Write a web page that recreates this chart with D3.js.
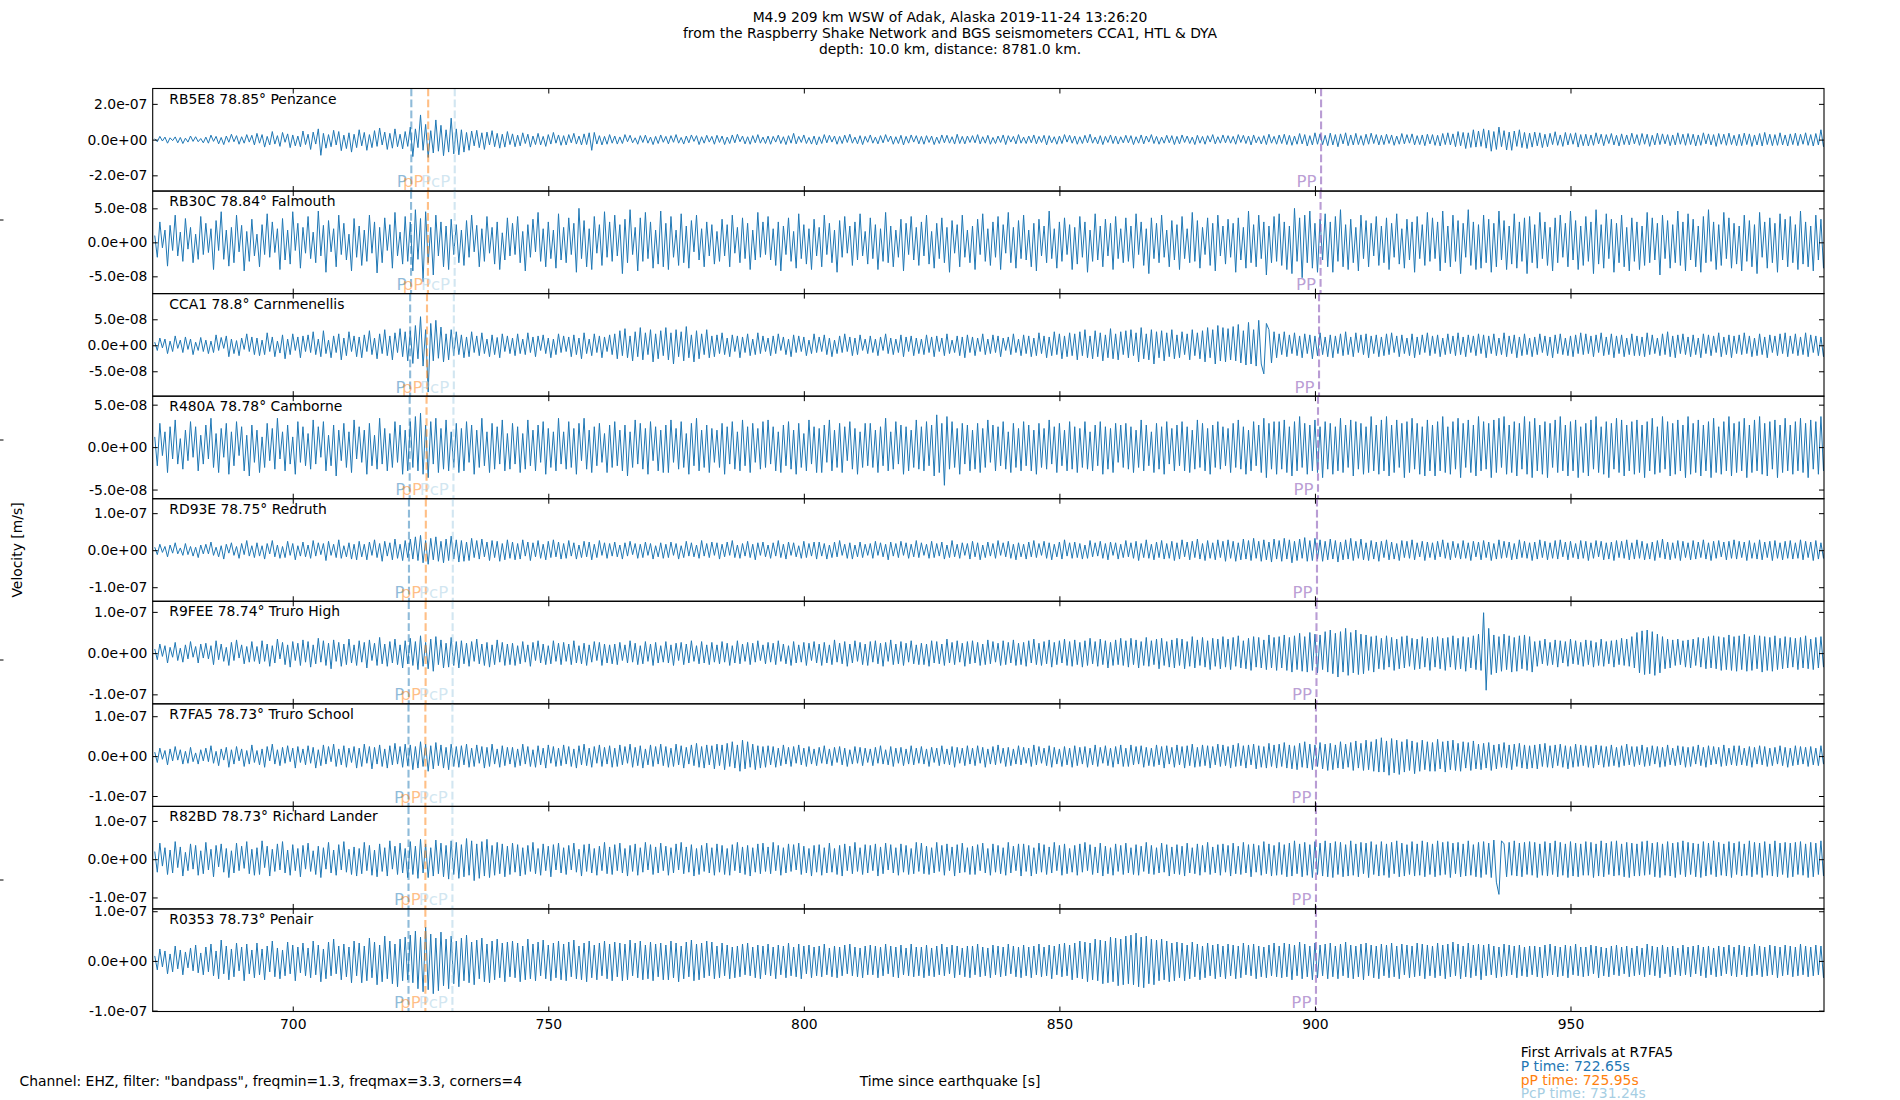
<!DOCTYPE html>
<html><head><meta charset="utf-8">
<script src="https://cdn.jsdelivr.net/npm/d3@7"></script>
<style>
html,body{margin:0;padding:0;background:#fff;}
svg{display:block;font-family:"DejaVu Sans",sans-serif;}
</style></head>
<body>
<svg id="chart" width="1900" height="1100"></svg>
<script>
// ---------------- data ----------------
const titleLines = ["M4.9 209 km WSW of Adak, Alaska 2019-11-24 13:26:20",
  "from the Raspberry Shake Network and BGS seismometers CCA1, HTL & DYA",
  "depth: 10.0 km, distance: 8781.0 km."];
const stations = ["RB5E8","RB30C","CCA1","R480A","RD93E","R9FEE","R7FA5","R82BD","R0353"];
const distances = ["78.85","78.84","78.8","78.78","78.75","78.74","78.73","78.73","78.73"];
const places = ["Penzance","Falmouth","Carnmenellis","Camborne","Redruth","Truro High","Truro School","Richard Lander","Penair"];
const pTimes   = [723.2, 723.15, 722.97, 722.88, 722.74, 722.70, 722.65, 722.65, 722.65];
const pPTimes  = [726.5, 726.45, 726.27, 726.18, 726.04, 726.00, 725.95, 725.95, 725.95];
const pcpTimes = [731.7, 731.68, 731.52, 731.44, 731.32, 731.28, 731.24, 731.24, 731.24];
const ppTimes  = [901.2, 901.1, 900.8, 900.6, 900.4, 900.3, 900.2, 900.2, 900.2];
const yMin = [-2.88e-7, -7.54e-8, -9.79e-8, -6.08e-8, -1.38e-7, -1.23e-7, -1.26e-7, -1.30e-7, -1.018e-7];
const yMax = [ 2.86e-7,  7.54e-8,  9.94e-8,  6.00e-8,  1.39e-7,  1.257e-7, 1.31e-7, 1.38e-7,  1.046e-7];
const yTicks = [[-2e-7,0,2e-7],[-5e-8,0,5e-8],[-5e-8,0,5e-8],[-5e-8,0,5e-8],[-1e-7,0,1e-7],[-1e-7,0,1e-7],[-1e-7,0,1e-7],[-1e-7,0,1e-7],[-1e-7,0,1e-7]];
const xTicks = [700,750,800,850,900,950];
const xDomain = [672.6, 999.6];
const traceStart = 673, traceStep = 0.5, traceUnit = 1e-9;
const legendTitle = "First Arrivals at R7FA5";
const legendLines = ["P time: 722.65s","pP time: 725.95s","PcP time: 731.24s"];
const channelText = 'Channel: EHZ, filter: "bandpass", freqmin=1.3, freqmax=3.3, corners=4';

// velocity samples (units of 1e-9 m/s), one every 0.5 s from 673 s
const tr0 = [
5,-12,18,-8,14,-20,10,-6,15,-18,12,-22,8,-14,20,-10,16,-12,6,-18,
14,-20,25,-10,18,-24,12,-28,20,-15,30,-12,22,-26,16,-20,28,-14,24,-30,
35,-20,28,-42,18,-30,45,-25,22,-38,40,-15,32,-45,26,-35,20,-40,48,-28,
30,-55,42,-25,60,-88,35,-48,28,-40,52,-30,45,-62,25,-50,38,-70,30,-45,
55,-35,40,-60,28,-45,50,-38,65,-30,42,-55,35,-48,60,-40,30,-52,45,-38,
70,-95,60,-45,138,-60,85,-100,50,-75,110,-65,80,-90,55,-70,120,-80,60,-85,
55,-70,40,-60,48,-35,52,-45,38,-55,42,-30,50,-40,35,-48,30,-42,45,-28,
32,-40,25,-35,38,-22,30,-42,20,-28,35,-30,18,-38,28,-25,40,-20,26,-32,
22,-30,28,-18,35,-25,20,-30,32,-28,38,-60,40,-25,22,-30,18,-26,28,-20,
20,-25,15,-22,28,-12,24,-18,10,-26,22,-16,25,-20,14,-28,18,-22,26,-15,
18,-24,22,-15,28,-20,12,-25,20,-18,26,-10,22,-28,16,-20,24,-14,18,-26,
24,-16,20,-28,14,-22,26,-18,30,-12,20,-24,16,-26,22,-18,28,-20,14,-22,
20,-26,18,-14,25,-22,16,-28,22,-20,35,-24,18,-16,26,-22,12,-25,20,-30,
16,-22,28,-18,24,-14,20,-26,18,-22,25,-16,30,-20,14,-24,22,-28,18,-15,
26,-20,14,-24,22,-18,28,-12,20,-26,16,-22,24,-30,18,-20,26,-14,22,-24,
18,-26,22,-16,20,-28,14,-22,26,-18,24,-20,16,-25,30,-22,18,-24,20,-16,
22,-18,28,-24,16,-20,24,-26,12,-22,20,-16,26,-28,22,-14,18,-24,28,-20,
14,-22,20,-18,26,-24,18,-16,24,-30,22,-18,16,-26,20,-22,28,-14,24,-20,
20,-26,16,-22,24,-18,30,-20,14,-24,22,-28,18,-16,26,-22,20,-25,16,-18,
24,-18,22,-28,16,-20,26,-24,20,-14,28,-22,18,-26,14,-20,24,-18,22,-28,
18,-24,26,-16,20,-22,14,-28,24,-20,18,-26,22,-14,28,-24,16,-20,26,-18,
22,-20,18,-26,28,-16,24,-22,20,-30,26,-18,16,-24,22,-28,30,-20,18,-26,
26,-22,30,-28,24,-32,20,-26,34,-24,28,-36,22,-30,38,-26,32,-28,24,-34,
36,-30,28,-40,32,-24,38,-34,26,-30,35,-28,22,-32,30,-26,36,-22,28,-30,
24,-28,30,-22,26,-32,20,-26,34,-24,28,-20,32,-30,22,-28,26,-34,30,-24,
28,-32,24,-36,34,-28,38,-30,32,-40,45,-35,40,-50,38,-44,55,-42,48,-38,
60,-48,52,-65,45,-55,70,-40,50,-58,42,-60,48,-38,55,-45,40,-50,36,-42,
42,-35,38,-45,30,-40,35,-28,44,-32,26,-38,40,-30,34,-26,38,-42,28,-34,
30,-36,26,-32,38,-24,30,-34,28,-22,34,-30,24,-36,32,-28,26,-30,36,-24,
28,-32,34,-26,30,-38,24,-30,36,-28,32,-24,28,-34,26,-30,38,-26,30,-32,
34,-28,30,-36,26,-32,38,-24,32,-30,28,-38,34,-26,30,-32,36,-28,24,-34,
30,-34,36,-28,32,-38,26,-30,34,-36,40,-28,30,-34,28,-32,38,-30,26,-36,
32,-28,36,-34,30,-26,38,-32,28,-36,34,-30,55,-40,45,-30,28,-25,30,-20];
const tr1 = [
10,-22,30,-8,18,-35,25,-12,40,-20,15,-28,35,-10,22,-30,12,-25,38,-18,
28,-15,20,-40,32,-12,45,-25,18,-35,22,-30,40,-14,25,-42,16,-28,34,-20,
12,-36,26,-18,42,-22,30,-15,20,-40,35,-26,18,-32,45,-12,28,-38,22,-16,
38,-24,15,-30,46,-20,25,-44,32,-14,20,-36,40,-18,28,-26,12,-42,35,-22,
24,-34,18,-28,40,-16,30,-45,22,-30,36,-12,26,-38,44,-20,15,-32,38,-28,
30,-42,48,-25,35,-58,45,-30,22,-48,40,-20,30,-36,24,-40,34,-18,26,-30,
18,-34,32,-22,40,-14,25,-36,20,-28,38,-16,22,-32,30,-40,14,-26,36,-20,
28,-18,38,-30,16,-42,26,-22,34,-14,44,-28,20,-36,30,-24,18,-38,42,-26,
22,-30,36,-18,28,-44,50,-24,32,-36,20,-40,38,-16,26,-34,45,-22,30,-28,
40,-20,26,-46,34,-30,48,-18,22,-42,36,-28,44,-24,30,-38,18,-32,46,-36,
28,-40,38,-22,18,-34,42,-30,24,-38,32,-14,40,-26,20,-36,30,-20,26,-32,
16,-28,34,-20,26,-36,40,-16,22,-30,36,-24,28,-40,18,-26,44,-22,30,-18,
38,-26,20,-34,30,-42,24,-18,36,-28,16,-38,42,-24,26,-32,20,-40,34,-20,
22,-36,40,-18,28,-30,18,-44,32,-22,38,-16,24,-34,30,-26,42,-20,16,-32,
36,-24,26,-40,20,-28,44,-30,24,-36,18,-22,34,-42,28,-18,38,-26,22,-34,
30,-20,40,-32,16,-38,28,-24,36,-30,22,-44,32,-16,26,-36,40,-22,18,-30,
24,-40,34,-18,42,-28,20,-34,30,-22,38,-40,26,-16,44,-30,22,-38,32,-24,
40,-26,18,-36,28,-42,34,-20,24,-30,46,-24,20,-38,30,-28,36,-18,26,-40,
22,-32,38,-22,30,-44,18,-28,42,-26,24,-36,34,-20,28,-40,38,-24,20,-30,
36,-28,24,-38,42,-18,30,-34,20,-46,36,-24,28,-30,40,-22,18,-36,32,-26,
26,-40,38,-24,20,-30,44,-28,32,-38,22,-18,36,-34,28,-42,40,-20,24,-32,
34,-22,28,-44,36,-26,22,-38,46,-30,26,-36,40,-24,30,-48,24,-30,38,-28,
42,-34,30,-40,24,-46,50,-28,36,-52,40,-30,46,-38,28,-44,34,-26,42,-36,
30,-44,38,-28,48,-36,26,-40,34,-30,22,-42,40,-24,32,-36,28,-20,38,-34,
24,-30,36,-40,28,-22,42,-32,20,-38,34,-26,30,-44,38,-24,26,-34,44,-28,
36,-24,30,-42,46,-30,24,-36,40,-28,32,-46,28,-22,48,-34,30,-40,26,-38,
40,-30,34,-44,28,-36,46,-26,32,-40,24,-32,42,-38,30,-28,36,-46,38,-30,
26,-38,44,-24,30,-34,22,-42,36,-30,40,-22,28,-36,46,-26,32,-40,24,-34,
38,-28,30,-46,48,-32,26,-38,42,-24,34,-44,28,-30,40,-36,22,-42,36,-28,
30,-40,24,-34,44,-30,36,-26,28,-48,40,-24,32,-38,26,-30,46,-34,30,-42,
42,-26,34,-36,24,-44,38,-30,48,-28,30,-40,26,-34,44,-24,36,-38,28,-32,
24,-42,40,-28,32,-36,26,-46,44,-22,30,-38,36,-30,28,-44,42,-26,34,-36,
38,-30,26,-40,46,-32,30,-36,24,-42,40,-26,34,-38,28,-30,44,-34,30,-28];
const tr2 = [
6,-10,14,-5,12,-16,8,-12,18,-6,10,-14,16,-8,12,-18,6,-10,15,-12,
10,-16,8,-14,20,-10,15,-6,18,-22,12,-16,9,-20,14,-8,22,-12,16,-18,
14,-20,10,-18,24,-12,16,-22,8,-15,20,-26,12,-18,22,-10,16,-24,18,-12,
20,-14,26,-18,12,-22,28,-16,10,-24,18,-14,22,-28,14,-20,26,-12,18,-22,
16,-24,20,-12,28,-18,14,-26,22,-16,30,-20,18,-28,24,-14,32,-22,26,-30,
28,-35,38,-26,55,-40,30,-90,42,-30,48,-25,35,-32,22,-28,30,-20,26,-18,
20,-24,16,-22,26,-14,18,-20,24,-16,12,-22,20,-18,15,-24,22,-12,18,-16,
14,-20,22,-16,12,-18,24,-14,16,-22,18,-10,20,-16,14,-24,12,-18,22,-14,
18,-12,16,-22,20,-18,14,-26,24,-16,12,-20,22,-14,18,-24,16,-12,20,-18,
22,-26,28,-20,32,-24,18,-30,26,-22,34,-28,24,-18,30,-32,22,-26,28,-20,
34,-28,24,-36,30,-22,26,-30,36,-24,20,-32,28,-26,22,-18,30,-24,18,-22,
20,-16,24,-18,14,-22,20,-12,18,-24,16,-14,22,-20,12,-18,24,-16,18,-12,
14,-20,18,-16,22,-10,16,-18,12,-22,20,-14,18,-12,16,-20,10,-16,22,-14,
16,-12,20,-18,14,-22,10,-16,18,-14,22,-12,16,-20,14,-18,20,-10,12,-16,
18,-14,12,-20,16,-10,22,-16,14,-18,12,-14,20,-22,16,-12,18,-20,14,-16,
12,-18,20,-14,16,-22,18,-12,14,-20,22,-16,10,-14,18,-20,16,-24,20,-14,
16,-20,14,-12,22,-18,12,-16,20,-14,18,-22,14,-10,16,-18,22,-14,12,-20,
20,-16,18,-22,14,-20,24,-16,18,-24,16,-20,26,-18,22,-26,18,-22,24,-20,
22,-28,26,-20,30,-24,18,-26,28,-22,24,-30,20,-24,32,-26,22,-28,26,-18,
28,-24,30,-20,24,-32,34,-26,22,-28,30,-36,26,-24,28,-30,24,-22,30,-26,
20,-24,26,-18,22,-28,30,-20,24,-26,28,-32,34,-24,30,-36,38,-30,34,-32,
32,-28,36,-30,40,-34,28,-38,44,-36,30,-40,48,-36,-55,42,30,-34,26,-24,
22,-18,26,-22,20,-16,24,-20,18,-24,22,-16,20,-26,18,-20,24,-18,16,-22,
20,-24,18,-16,22,-20,26,-18,16,-22,24,-14,20,-18,22,-24,18,-16,20,-22,
16,-20,22,-18,24,-14,18,-22,20,-16,14,-20,22,-24,16,-18,20,-14,24,-20,
18,-16,20,-22,14,-18,22,-16,18,-20,24,-18,16,-22,20,-14,18,-20,22,-16,
20,-24,18,-16,22,-20,14,-18,24,-22,18,-16,20,-24,16,-20,22,-18,14,-22,
16,-18,22,-14,18,-20,16,-24,20,-16,22,-18,14,-20,18,-22,20,-16,24,-18,
22,-16,18,-22,20,-14,24,-20,16,-18,22,-24,18,-16,20,-22,14,-18,22,-20,
18,-20,16,-22,24,-18,20,-16,14,-20,22,-18,26,-22,18,-24,20,-16,22,-18,
16,-22,20,-18,14,-24,22,-16,20,-20,18,-14,24,-22,16,-18,20,-24,18,-16,
20,-18,24,-16,18,-22,14,-20,22,-18,16,-24,20,-14,18,-20,22,-16,24,-22,
18,-16,22,-20,16,-18,24,-22,20,-14,18,-20,16,-22,22,-18,20,-16,18,-14];
const tr3 = [
12,-22,28,-10,18,-30,24,-14,32,-20,10,-26,20,-16,30,-12,24,-28,14,-20,
26,-14,34,-24,16,-30,22,-12,28,-32,18,-22,30,-10,24,-28,14,-34,26,-18,
20,-30,12,-24,28,-16,22,-26,34,-14,18,-28,26,-20,12,-32,30,-18,24,-22,
16,-26,32,-20,24,-12,30,-28,14,-22,26,-34,20,-16,28,-24,18,-30,32,-14,
24,-18,20,-32,28,-22,14,-26,34,-20,22,-28,16,-24,30,-18,26,-32,20,-28,
30,-24,36,-28,40,-32,26,-36,30,-20,34,-30,22,-26,32,-28,18,-24,28,-30,
22,-28,30,-18,26,-32,20,-24,34,-22,18,-30,28,-26,24,-20,32,-28,16,-26,
28,-20,24,-30,16,-26,32,-22,20,-28,26,-18,30,-32,22,-24,18,-28,34,-20,
18,-26,30,-24,22,-32,28,-16,34,-26,20,-30,24,-22,28,-18,16,-30,26,-24,
30,-22,20,-28,26,-34,18,-24,32,-20,28,-26,22,-32,30,-16,24,-28,20,-30,
26,-30,32,-18,22,-26,30,-24,16,-32,28,-22,34,-28,20,-24,26,-30,22,-18,
20,-24,28,-32,24,-20,30,-26,18,-28,32,-22,24,-30,28,-18,22,-26,30,-24,
32,-20,24,-28,18,-30,26,-22,30,-26,20,-32,28,-24,16,-28,32,-20,24,-30,
22,-30,26,-18,32,-28,20,-24,28,-30,24,-16,30,-26,22,-32,18,-24,28,-22,
28,-24,20,-30,24,-22,34,-28,18,-26,30,-20,26,-32,24,-28,20,-24,32,-26,
24,-28,30,-22,26,-34,38,-30,28,-45,36,-26,30,-24,22,-32,28,-20,26,-28,
20,-26,28,-30,22,-24,32,-18,26,-28,24,-22,30,-26,18,-30,28,-24,22,-28,
30,-22,26,-28,20,-32,28,-24,22,-26,32,-20,24,-30,28,-22,20,-28,30,-26,
24,-30,22,-24,30,-26,18,-28,26,-22,30,-32,24,-26,22,-30,28,-18,26,-24,
28,-26,24,-30,20,-24,32,-28,26,-22,18,-30,28,-26,24,-32,30,-20,22,-28,
26,-22,30,-28,24,-30,20,-26,32,-24,28,-28,22,-32,26,-24,30,-26,24,-22,
22,-30,28,-24,32,-26,24,-32,20,-28,30,-22,26,-30,34,-36,28,-26,30,-32,
30,-26,32,-30,24,-34,30,-28,36,-24,28,-32,26,-28,32,-30,24,-36,30,-26,
28,-32,24,-28,34,-30,26,-24,32,-34,30,-26,28,-32,24,-30,36,-28,26,-32,
32,-28,36,-34,26,-30,32,-24,28,-36,30,-30,34,-26,28,-32,24,-34,32,-28,
26,-34,30,-28,36,-30,24,-32,30,-26,34,-36,28,-24,32,-30,26,-34,36,-28,
30,-26,28,-36,32,-30,34,-24,36,-32,26,-30,30,-34,28,-26,36,-32,30,-36,
34,-28,26,-32,30,-36,28,-24,32,-30,36,-28,26,-34,30,-28,32,-36,24,-30,
28,-34,32,-26,36,-30,24,-32,30,-36,28,-26,34,-30,32,-34,26,-28,30,-32,
32,-30,26,-36,30,-28,34,-32,24,-30,36,-26,30,-34,28,-32,32,-28,26,-36,
36,-32,28,-30,32,-34,26,-28,30,-36,34,-30,24,-32,30,-28,36,-34,28,-30,
30,-28,34,-36,26,-30,32,-28,36,-32,28,-34,30,-26,32,-36,26,-30,34,-28,
26,-32,30,-28,34,-30,28,-36,32,-26,30,-32,36,-28,24,-30,32,-34,28,-30];
const tr4 = [
8,-12,16,-6,10,-18,14,-8,20,-10,6,-14,18,-12,10,-16,8,-20,14,-10,
16,-10,22,-14,8,-18,12,-24,16,-8,20,-14,10,-22,18,-12,26,-16,12,-20,
20,-16,12,-24,18,-10,26,-18,14,-22,10,-20,24,-14,18,-26,12,-16,22,-18,
14,-22,26,-16,20,-12,18,-28,24,-14,16,-20,28,-22,12,-18,20,-24,16,-26,
24,-18,16,-26,22,-14,28,-20,18,-30,24,-16,20,-26,30,-22,16,-28,26,-20,
30,-24,36,-28,40,-34,26,-38,32,-26,36,-30,24,-34,30,-28,38,-24,28,-32,
26,-30,22,-28,32,-20,26,-24,30,-18,22,-28,26,-20,24,-30,18,-26,28,-22,
22,-26,18,-24,28,-16,22,-28,20,-18,26,-22,16,-26,24,-20,28,-18,22,-24,
18,-22,26,-16,20,-24,14,-20,24,-18,22,-26,16,-20,26,-14,20,-22,18,-16,
22,-18,14,-24,20,-16,24,-12,18,-22,16,-20,22,-14,18,-24,12,-18,20,-22,
16,-20,22,-14,18,-24,12,-20,24,-16,20,-18,14,-22,26,-16,18,-20,22,-14,
20,-24,16,-18,22,-14,26,-20,14,-22,18,-16,24,-20,16,-26,20,-14,22,-18,
14,-22,20,-16,26,-20,16,-24,22,-14,20,-18,12,-22,24,-20,18,-16,22,-24,
22,-16,18,-24,14,-20,22,-18,26,-14,16,-22,20,-24,14,-18,22,-20,16,-14,
18,-22,24,-14,20,-18,16,-26,22,-16,18,-20,24,-14,20,-22,16,-18,26,-20,
20,-14,16,-22,24,-20,18,-16,22,-24,14,-20,26,-18,16,-22,20,-14,18,-24,
24,-18,20,-26,14,-20,22,-16,18,-22,26,-14,20,-18,24,-22,16,-26,20,-18,
16,-24,22,-18,26,-20,18,-14,24,-22,20,-26,16,-18,22,-24,28,-16,20,-22,
22,-20,18,-24,14,-22,26,-18,20,-16,24,-22,18,-26,22,-14,20,-24,16,-20,
26,-18,20,-22,24,-28,18,-20,28,-22,16,-26,22,-20,26,-24,18,-22,24,-28,
20,-24,28,-18,22,-26,24,-20,30,-24,18,-28,26,-22,20,-26,28,-20,24,-30,
28,-22,24,-30,20,-26,30,-24,26,-28,32,-22,24,-30,28,-26,22,-32,30,-24,
26,-30,32,-24,28,-34,24,-28,30,-22,34,-30,26,-28,32,-24,28,-30,24,-26,
30,-24,26,-32,22,-26,28,-24,32,-28,24,-22,30,-26,20,-28,26,-24,22,-30,
24,-20,28,-26,22,-24,18,-28,26,-20,24,-22,28,-26,20,-18,24,-28,22,-20,
20,-26,24,-18,28,-22,20,-26,24,-20,18,-24,26,-22,20,-28,24,-18,22,-26,
26,-20,22,-28,18,-24,28,-22,24,-20,22,-26,18,-24,28,-20,24,-22,20,-28,
22,-24,28,-20,24,-26,20,-22,26,-24,28,-18,22,-26,24,-20,18,-24,26,-22,
24,-28,20,-22,26,-18,24,-26,20,-24,22,-28,26,-20,24,-22,28,-26,20,-24,
28,-22,24,-26,18,-24,22,-28,26,-20,30,-24,22,-26,20,-22,26,-28,24,-20,
20,-26,26,-24,22,-20,28,-24,20,-28,24,-22,26,-18,22,-26,24,-22,28,-24,
24,-20,22,-28,26,-22,20,-24,28,-26,22,-20,24,-28,26,-22,20,-26,24,-22,
26,-24,20,-22,28,-26,24,-20,22,-28,26,-24,20,-22,24,-26,28,-22,24,-20];
const tr5 = [
10,-16,22,-8,18,-24,14,-10,26,-18,12,-22,20,-14,28,-10,16,-24,22,-12,
24,-14,18,-28,30,-16,22,-20,14,-30,26,-18,32,-12,20,-26,16,-22,28,-20,
16,-26,30,-20,22,-32,18,-24,34,-14,26,-28,20,-34,28,-18,24,-30,32,-22,
28,-34,20,-26,36,-22,30,-30,24,-38,32,-20,26,-32,22,-28,34,-24,20,-30,
30,-22,26,-36,32,-18,24,-30,38,-26,22,-32,28,-24,34,-28,20,-36,30,-26,
36,-30,28,-40,42,-32,26,-38,34,-44,40,-28,32,-36,24,-34,38,-30,28,-36,
30,-26,24,-32,28,-20,34,-26,22,-30,26,-34,20,-28,32,-22,26,-30,22,-28,
24,-30,18,-26,28,-22,20,-32,26,-18,30,-24,22,-28,18,-26,30,-20,24,-28,
26,-20,22,-28,30,-24,18,-26,24,-30,20,-22,28,-18,26,-30,22,-24,20,-26,
22,-28,26,-18,20,-24,30,-22,24,-28,18,-26,28,-20,22,-30,26,-24,18,-22,
28,-24,20,-30,24,-18,26,-28,22,-24,30,-20,18,-26,28,-24,20,-28,26,-22,
20,-26,28,-22,24,-30,18,-24,30,-26,22,-20,26,-28,24,-22,30,-18,20,-26,
26,-22,24,-28,30,-20,22,-26,18,-30,28,-24,20,-22,26,-30,24,-18,28,-24,
22,-30,26,-24,20,-28,32,-22,24,-26,28,-32,22,-24,30,-20,26,-28,22,-30,
28,-22,30,-26,24,-32,26,-20,32,-28,22,-26,28,-30,24,-22,30,-26,20,-28,
24,-28,22,-32,30,-24,28,-26,22,-30,34,-24,26,-28,30,-22,24,-32,28,-26,
30,-24,26,-30,22,-28,32,-26,28,-22,24,-30,30,-28,26,-24,32,-30,24,-28,
26,-32,30,-24,34,-28,24,-30,28,-26,32,-34,26,-28,30,-24,34,-30,28,-32,
32,-28,26,-34,30,-30,36,-26,28,-32,34,-28,30,-36,26,-30,32,-28,36,-30,
30,-34,36,-28,32,-36,28,-30,38,-32,30,-28,34,-38,36,-30,28,-34,32,-36,
36,-30,34,-38,28,-32,40,-36,32,-30,38,-34,30,-40,36,-32,34,-38,40,-34,
34,-40,38,-32,42,-36,30,-38,36,-42,40,-34,38,-36,32,-40,44,-36,38,-42,
40,-36,44,-42,38,-46,42,-40,48,-44,40,-46,50,-42,46,-48,44,-40,52,-46,
56,-50,48,-58,52,-46,60,-54,50,-48,56,-52,46,-50,44,-42,40,-46,42,-38,
36,-40,42,-34,38,-42,34,-38,40,-36,42,-32,36,-40,34,-38,40,-34,36,-42,
38,-34,40,-38,36,-42,38,-34,42,-40,36,-38,40,-44,38,-36,42,-40,46,-42,
98,-90,60,-52,44,-48,40,-44,46,-40,42,-46,38,-44,42,-38,44,-42,40,-46,
28,-32,30,-26,34,-30,26,-28,32,-34,30,-24,28,-32,34,-26,30,-28,26,-32,
32,-28,30,-34,26,-30,34,-32,28,-26,30,-34,32,-28,36,-30,34,-32,40,-36,
50,-48,54,-52,56,-50,52,-54,46,-48,40,-38,34,-36,32,-30,34,-28,30,-34,
32,-36,34,-30,38,-34,36,-38,40,-36,42,-38,40,-42,38,-40,44,-42,40,-44,
42,-40,46,-44,40,-42,44,-38,42,-46,40,-42,38,-44,42,-40,36,-38,40,-36,
38,-34,36,-40,38,-36,42,-38,34,-40,38,-36,40,-34,36,-38,40,-36,34,-38];
const tr6 = [
10,-16,20,-8,14,-22,18,-12,24,-10,16,-20,12,-18,22,-14,8,-20,16,-12,
20,-14,26,-18,12,-24,18,-10,22,-28,16,-20,24,-12,18,-26,14,-20,28,-16,
14,-22,18,-28,24,-12,30,-20,16,-24,22,-18,26,-14,20,-30,24,-16,18,-22,
26,-18,22,-30,16,-24,28,-20,24,-14,30,-26,18,-22,26,-28,20,-16,24,-30,
20,-26,30,-18,24,-32,22,-20,28,-26,18,-30,26,-22,32,-20,24,-28,30,-24,
28,-34,24,-30,36,-26,30,-38,26,-32,34,-24,28,-30,22,-34,30,-26,24,-28,
26,-22,30,-28,20,-26,28,-18,24,-30,22,-26,30,-20,18,-28,26,-24,22,-20,
22,-28,18,-24,30,-20,24,-26,16,-28,26,-22,20,-30,28,-18,24,-26,20,-24,
28,-20,24,-26,18,-30,26,-22,30,-24,20,-28,24,-18,28,-26,22,-20,26,-28,
20,-26,28,-22,24,-18,30,-28,22,-24,26,-30,18,-22,28,-26,24,-20,30,-24,
24,-28,20,-26,30,-22,26,-30,22,-20,28,-24,32,-28,24,-30,28,-22,26,-32,
30,-24,28,-34,32,-26,36,-30,28,-38,40,-32,36,-28,30,-34,26,-30,24,-28,
26,-22,24,-28,20,-24,28,-20,22,-26,24,-18,28,-22,20,-26,24,-20,18,-24,
22,-18,26,-20,18,-24,22,-16,24,-22,20,-26,16,-20,24,-18,22,-24,20,-16,
18,-24,22,-18,26,-20,16,-22,24,-26,20,-18,22,-24,18,-20,26,-22,20,-18,
24,-20,18,-26,22,-16,20,-24,26,-20,18,-22,24,-28,22,-18,20,-24,26,-20,
20,-24,26,-18,22,-28,18,-20,24,-22,28,-18,20,-26,22,-24,18,-20,26,-22,
22,-18,20,-26,28,-22,24,-18,20,-24,26,-28,22,-20,18,-26,24,-22,20,-28,
26,-24,22,-20,24,-28,20,-22,28,-26,22,-18,26,-24,20,-28,24,-20,28,-26,
20,-26,28,-22,24,-20,26,-28,22,-24,20,-26,28,-22,24,-30,26,-20,22,-28,
28,-22,24,-30,26,-24,30,-28,22,-26,28,-24,26,-30,24,-22,30,-26,28,-24,
24,-30,28,-26,32,-24,26,-30,28,-22,30,-32,26,-28,24,-30,32,-26,28,-30,
30,-26,34,-30,28,-32,26,-34,32,-28,36,-30,30,-34,28,-26,34,-32,30,-36,
32,-34,28,-30,36,-32,30,-28,34,-36,38,-30,32,-36,40,-34,36,-38,42,-40,
46,-40,38,-48,44,-42,40,-46,36,-40,42,-36,38,-44,34,-38,40,-34,36,-38,
34,-38,42,-32,36,-40,38,-34,40,-36,32,-38,36,-30,34,-36,38,-32,30,-34,
32,-30,34,-36,28,-32,30,-28,34,-30,28,-34,30,-26,32,-30,28,-32,26,-30,
28,-32,30,-26,32,-28,26,-30,28,-24,30,-28,26,-32,24,-28,30,-26,28,-24,
26,-28,24,-30,28,-22,26,-28,24,-26,28,-24,22,-28,26,-24,30,-22,24,-26,
24,-22,28,-26,22,-24,26,-20,24,-28,22,-26,28,-22,20,-24,26,-22,24,-28,
22,-26,24,-20,28,-24,22,-28,26,-22,24,-20,22,-26,28,-24,20,-22,26,-24,
26,-22,20,-24,24,-28,22,-20,26,-22,24,-26,20,-24,22,-20,26,-24,22,-28,
20,-24,26,-22,24,-20,22,-26,24,-22,20,-24,26,-20,22,-24,20,-22,24,-18];
const tr7 = [
20,-34,42,-18,30,-40,24,-36,46,-22,32,-44,18,-30,40,-26,36,-42,22,-38,
44,-28,26,-46,36,-20,40,-34,28,-48,22,-36,42,-30,34,-24,46,-38,26,-42,
30,-40,48,-22,34,-44,26,-32,40,-28,46,-36,24,-42,38,-30,28,-46,36,-26,
42,-32,22,-40,34,-48,30,-26,44,-36,24,-42,38,-28,46,-34,26,-40,32,-44,
28,-38,44,-30,36,-42,24,-46,40,-32,30,-44,48,-26,34,-40,42,-36,28,-48,
46,-40,34,-50,52,-36,40,-48,30,-44,50,-38,42,-46,36,-52,48,-40,44,-50,
38,-46,54,-42,48,-56,40,-50,46,-44,52,-48,36,-42,44,-38,40,-46,34,-40,
42,-34,38,-44,30,-40,36,-32,44,-38,28,-42,40,-30,34,-46,38,-28,42,-36,
30,-40,36,-28,42,-34,26,-44,38,-32,40,-36,28,-42,34,-30,44,-38,32,-40,
38,-30,42,-36,28,-44,36,-32,40,-42,30,-34,44,-28,38,-40,32,-36,42,-30,
34,-42,30,-36,40,-28,44,-38,32,-34,38,-44,28,-40,36,-32,42,-36,30,-42,
40,-34,36,-40,28,-42,38,-30,44,-36,32,-40,36,-44,30,-34,40,-38,42,-32,
32,-38,44,-30,36,-42,30,-36,40,-32,38,-28,42,-40,34,-36,28,-44,36,-34,
38,-42,30,-36,42,-34,28,-40,36,-44,40,-30,34,-38,44,-32,30,-40,38,-36,
36,-30,40,-44,32,-38,42,-28,38,-36,30,-42,40,-34,36,-40,28,-38,44,-32,
42,-38,34,-40,30,-36,44,-32,36,-42,40,-30,32,-44,38,-36,42,-34,30,-40,
34,-40,38,-30,42,-36,28,-42,40,-34,36,-38,30,-42,44,-36,34,-30,40,-44,
40,-32,36,-44,30,-38,42,-34,38,-40,32,-36,44,-30,36,-42,40,-38,28,-34,
36,-42,40,-34,44,-30,38,-40,32,-36,42,-44,34,-38,30,-42,40,-32,36,-40,
42,-36,30,-40,38,-42,34,-32,44,-38,36,-40,30,-36,42,-34,38,-44,32,-38,
38,-40,34,-44,42,-36,30,-38,40,-42,36,-34,44,-40,32,-36,38,-42,40,-34,
36,-44,42,-38,34,-40,44,-36,38,-46,40,-34,36,-42,46,-38,40,-44,36,-42,
44,-40,38,-46,42,-44,48,-38,40,-46,44,-42,38,-48,46,-40,42,-44,48,-46,
42,-48,46,-40,44,-46,38,-44,48,-42,40,-46,44,-38,42,-48,46,-40,38,-44,
46,-42,40,-48,44,-38,48,-46,42,-44,38,-40,46,-44,40,-42,48,-46,44,-40,
40,-46,48,-42,44,-40,46,-48,42,-38,44,-46,40,-44,48,-42,38,-46,44,-48,
46,-40,42,-48,50,-60,-92,48,40,-46,44,-42,48,-44,42,-46,44,-40,46,-42,
44,-48,40,-42,46,-44,42,-40,48,-46,44,-42,40,-48,46,-44,42,-46,40,-42,
46,-42,44,-48,40,-44,48,-46,42,-40,46,-44,48,-42,40,-46,44,-48,42,-44,
40,-44,46,-42,48,-40,42,-46,44,-48,40,-42,46,-44,42,-48,44,-40,48,-46,
44,-40,42,-46,40,-48,46,-44,42,-40,48,-46,44,-42,40,-44,46,-48,42,-40,
46,-44,40,-42,48,-46,44,-40,42,-48,46,-42,40,-44,48,-46,42,-40,44,-48,
42,-46,44,-40,46,-42,40,-48,44,-46,42,-40,48,-44,46,-42,40,-46,44,-38];
const tr8 = [
10,-18,24,-12,20,-26,14,-22,30,-16,22,-28,18,-14,26,-20,32,-24,16,-28,
28,-22,34,-30,20,-36,42,-26,30,-38,24,-32,36,-20,28,-40,34,-26,22,-34,
36,-28,24,-38,30,-22,40,-32,26,-36,22,-30,38,-26,32,-40,28,-24,36,-30,
26,-34,40,-28,32,-42,24,-36,38,-30,44,-26,30,-38,34,-32,28,-44,40,-30,
36,-44,30,-40,46,-34,38,-48,32,-42,50,-36,40,-46,34,-52,44,-40,48,-38,
52,-44,60,-56,48,-62,68,-58,54,-66,46,-60,58,-50,44,-56,50,-46,40,-52,
46,-40,52,-44,38,-48,42,-36,46,-42,34,-44,40,-38,44,-34,36,-42,38,-32,
40,-34,36,-42,30,-38,44,-36,34,-40,38,-30,42,-36,32,-40,36,-34,40,-38,
34,-40,38,-32,42,-36,30,-38,36,-42,40,-34,32,-38,36,-30,40,-36,34,-40,
38,-32,36,-40,34,-38,42,-30,36,-34,40,-38,32,-36,38,-40,34,-32,36,-38,
32,-38,40,-34,36,-42,30,-36,38,-32,42,-40,34,-38,36,-34,40,-30,38,-36,
30,-34,36,-30,32,-36,28,-34,30,-32,34,-28,36,-30,28,-34,32,-36,30,-28,
34,-30,28,-36,32,-28,30,-34,36,-30,28,-32,34,-36,30,-26,32,-34,28,-30,
30,-32,34,-28,26,-32,30,-34,28,-30,32,-26,34,-30,28,-32,26,-34,30,-28,
32,-28,30,-34,28,-30,34,-26,30,-32,28,-34,32,-28,26,-30,34,-32,28,-30,
28,-34,32,-30,26,-32,30,-28,34,-30,28,-26,32,-34,30,-28,26,-32,30,-34,
30,-28,34,-32,28,-30,26,-34,32,-28,30,-32,28,-30,34,-26,30,-32,28,-34,
32,-30,28,-34,30,-28,34,-32,28,-30,32,-36,30,-28,34,-32,36,-30,32,-38,
36,-34,40,-36,38,-42,36,-38,44,-40,42,-46,40,-44,48,-42,46,-50,44,-48,
50,-46,52,-48,56,-52,48,-54,50,-46,44,-48,42,-40,44,-38,40,-42,36,-40,
38,-34,36,-40,32,-36,38,-32,34,-38,30,-34,36,-30,32,-36,34,-32,30,-36,
34,-30,32,-36,30,-34,36,-28,32,-30,34,-36,30,-32,28,-34,32,-30,36,-32,
30,-34,36,-32,34,-38,32,-30,38,-36,34,-32,30,-38,36,-34,32,-30,34,-36,
36,-32,30,-36,34,-30,38,-34,32,-36,30,-32,34,-38,36,-30,32,-34,30,-36,
34,-30,32,-34,36,-32,30,-36,34,-28,32,-34,30,-32,36,-30,34,-36,32,-30,
30,-34,36,-30,32,-36,34,-32,38,-30,34,-36,30,-32,36,-34,32,-30,34,-38,
32,-30,34,-28,30,-34,28,-32,34,-30,32,-28,30,-34,32,-30,28,-32,30,-28,
30,-32,28,-34,32,-30,34,-28,30,-32,28,-30,32,-34,30,-28,34,-30,28,-32,
28,-30,32,-26,30,-34,28,-30,26,-32,30,-28,32,-30,28,-26,30,-32,26,-30,
30,-28,26,-32,34,-28,30,-30,28,-34,32,-26,28,-32,30,-28,26,-30,32,-28,
28,-32,30,-26,32,-30,28,-34,30,-28,26,-32,30,-30,28,-26,32,-30,28,-32,
32,-28,30,-32,28,-30,34,-28,30,-32,28,-30,32,-28,30,-34,28,-30,32,-28,
30,-32,28,-30,34,-28,30,-32,28,-30,32,-28,30,-34,28,-30,32,-28,30,-26];
const traces = [tr0,tr1,tr2,tr3,tr4,tr5,tr6,tr7,tr8];

// ---------------- layout ----------------
const W = 1900, H = 1100;
const L = 152.7, R = 1824, T = 88.5, B = 1011.5;
const n = stations.length;
const ph = (B - T) / n;
const tickLen = 5;
const svg = d3.select("#chart");
const fontPx = 13.9;

const x = d3.scaleLinear().domain(xDomain).range([L, R]);

function fmtE(v){
  const s = v.toExponential(1);
  return s.replace(/e([+-])(\d)$/, "e$10$2");
}

const arrivalDefs = [
  {times: pTimes,   name: "P",   color: "#1f77b4", alpha: 0.5},
  {times: pPTimes,  name: "pP",  color: "#ff7f0e", alpha: 0.5},
  {times: pcpTimes, name: "PcP", color: "#a6cee3", alpha: 0.5},
  {times: ppTimes,  name: "PP",  color: "#9467bd", alpha: 0.65}
];

const defs = svg.append("defs");

for (let i = 0; i < n; i++) {
  const top = T + ph * i, bot = T + ph * (i + 1);
  const y = d3.scaleLinear().domain([yMin[i], yMax[i]]).range([bot, top]);
  const g = svg.append("g");
  defs.append("clipPath").attr("id", "clip" + i)
    .append("rect").attr("x", L).attr("y", top).attr("width", R - L).attr("height", bot - top);

  const pts = traces[i].map((v, k) => [traceStart + k * traceStep, v * traceUnit]);
  const line = d3.line().x(d => x(d[0])).y(d => y(d[1]));
  g.append("path").attr("d", line(pts)).attr("fill", "none")
    .attr("stroke", "#1f77b4").attr("stroke-width", 1).attr("stroke-linejoin", "round")
    .attr("clip-path", "url(#clip" + i + ")");

  arrivalDefs.forEach(a => {
    const ax = x(a.times[i]);
    g.append("line").attr("x1", ax).attr("x2", ax).attr("y1", top).attr("y2", bot)
      .attr("stroke", a.color).attr("stroke-opacity", a.alpha).attr("stroke-width", 2.1)
      .attr("stroke-dasharray", "7.7,3.3");
    g.append("text").attr("x", ax - 4.5).attr("y", bot - 3.6)
      .attr("text-anchor", "end").attr("font-size", 16.67)
      .attr("fill", a.color).attr("fill-opacity", a.alpha).text(a.name);
  });

  const yl = d3.axisLeft(y).tickValues(yTicks[i]).tickSize(-tickLen).tickPadding(5.3).tickFormat(fmtE);
  const ga = g.append("g").attr("transform", `translate(${L},0)`).call(yl);
  const yr = d3.axisRight(y).tickValues(yTicks[i]).tickSize(-tickLen).tickFormat("");
  const gb = g.append("g").attr("transform", `translate(${R},0)`).call(yr);
  const xt = d3.axisTop(x).tickValues(xTicks).tickSize(-tickLen).tickFormat("");
  const gc = g.append("g").attr("transform", `translate(0,${top})`).call(xt);
  const xb = d3.axisBottom(x).tickValues(xTicks).tickSize(-tickLen).tickPadding(8)
    .tickFormat(i === n - 1 ? d3.format("d") : "");
  const gd = g.append("g").attr("transform", `translate(0,${bot})`).call(xb);
  [ga, gb, gc, gd].forEach(s => {
    s.select(".domain").remove();
    s.selectAll("line").attr("stroke", "#000").attr("stroke-width", 1);
    s.selectAll("text").attr("font-size", fontPx).attr("fill", "#000")
      .attr("font-family", '"DejaVu Sans",sans-serif');
  });

  g.append("rect").attr("x", L).attr("y", top).attr("width", R - L).attr("height", bot - top)
    .attr("fill", "none").attr("stroke", "#000").attr("stroke-width", 1.1);

  g.append("text").attr("x", L + 16.6).attr("y", top + 15).attr("font-size", fontPx)
    .attr("fill", "#000").text(`${stations[i]} ${distances[i]}° ${places[i]}`);
}

svg.append("text").attr("text-anchor", "middle").attr("font-size", fontPx).attr("fill", "#000")
  .selectAll("tspan").data(titleLines).join("tspan")
  .attr("x", W / 2).attr("y", (d, k) => 21.5 + k * 16.2).text(d => d);

svg.append("text").attr("transform", `translate(22,${(T + B) / 2}) rotate(-90)`)
  .attr("text-anchor", "middle").attr("font-size", fontPx).attr("fill", "#000").text("Velocity [m/s]");

svg.append("text").attr("x", W / 2).attr("y", 1086).attr("text-anchor", "middle")
  .attr("font-size", fontPx).attr("fill", "#000").text("Time since earthquake [s]");

svg.append("text").attr("x", 19.5).attr("y", 1086).attr("font-size", fontPx)
  .attr("fill", "#000").text(channelText);

svg.append("text").attr("x", 1520.7).attr("y", 1057).attr("font-size", fontPx).attr("fill", "#000").text(legendTitle);
const legendColors = ["#1f77b4", "#ff7f0e", "#a6cee3"];
legendLines.forEach((t, k) => {
  svg.append("text").attr("x", 1520.7).attr("y", 1071 + k * 13.6).attr("font-size", fontPx)
    .attr("fill", legendColors[k]).text(t);
});

[220, 440, 660, 880].forEach(v => {
  svg.append("line").attr("x1", 0).attr("x2", 3.5).attr("y1", v).attr("y2", v)
    .attr("stroke", "#000").attr("stroke-width", 1);
});
</script>
</body></html>
